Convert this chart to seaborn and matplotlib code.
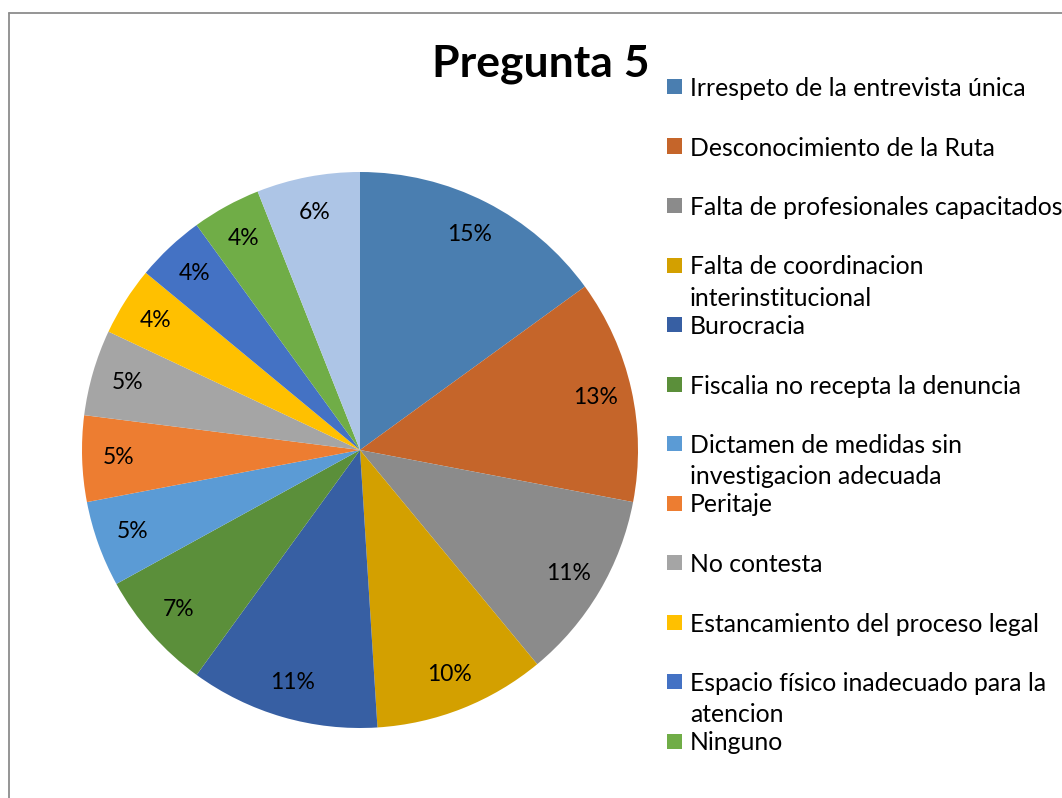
import numpy as np
import pandas as pd
import seaborn as sns
import matplotlib.pyplot as plt
from matplotlib.patches import Rectangle
from matplotlib.lines import Line2D

# data (percent of answers)
categorias = ['Irrespeto de la entrevista única',
              'Desconocimiento de la Ruta',
              'Falta de profesionales capacitados',
              'Falta de coordinacion\ninterinstitucional',
              'Burocracia',
              'Fiscalia no recepta la denuncia',
              'Dictamen de medidas sin\ninvestigacion adecuada',
              'Peritaje',
              'No contesta',
              'Estancamiento del proceso legal',
              'Espacio físico inadecuado para la\natencion',
              'Ninguno',
              'Otros']
porcentajes = [15, 13, 11, 10, 11, 7, 5, 5, 5, 4, 4, 4, 6]
colores = ['#4a7eb0', '#c5652a', '#8b8b8b', '#d3a000', '#375fa3', '#5b8f3a',
           '#5b9bd5', '#ed7d31', '#a5a5a5', '#ffc000', '#4472c4', '#70ad47',
           '#adc5e6']
n_leyenda = 12  # the last slice has no legend entry in the original

sns.set_theme(style='white')
plt.rcParams['font.family'] = ['Lato', 'DejaVu Sans']

W, H = 1062, 798
fig = plt.figure(figsize=(W / 100, H / 100), dpi=100)
fig.patch.set_facecolor('white')

# pie area: centre (360, 450) px, radius 278 px
cx, cy, r = 360, 450, 278
ax = fig.add_axes([(cx - r) / W, 1 - (cy + r) / H, 2 * r / W, 2 * r / H])
pal = sns.color_palette(colores)
ax.pie(porcentajes, colors=pal, startangle=90, counterclock=False,
       autopct='%1.0f%%', pctdistance=0.87,
       wedgeprops=dict(linewidth=0),
       textprops=dict(fontsize=16.5, color='black'))
ax.set_xlim(-1, 1)
ax.set_ylim(-1, 1)
ax.set_aspect('equal')
ax.axis('off')

# chart frame (only top and left edges are visible)
fig.add_artist(Line2D([9 / W, 1], [1 - 13 / H, 1 - 13 / H], color='#8c8c8c', lw=1.3))
fig.add_artist(Line2D([9 / W, 9 / W], [0, 1 - 13 / H], color='#8c8c8c', lw=1.3))

fig.text(541 / W, 1 - 64 / H, 'Pregunta 5', ha='center', va='center',
         fontsize=32, fontweight='bold', color='black')

# legend
y0, paso, interl = 86.5, 59.5, 31
for i in range(n_leyenda):
    y = y0 + i * paso
    fig.add_artist(Rectangle((667 / W, 1 - (y + 7.5) / H), 15 / W, 15 / H,
                             facecolor=colores[i], edgecolor='none',
                             transform=fig.transFigure))
    for k, linea in enumerate(categorias[i].split('\n')):
        fig.text(690 / W, 1 - (y + k * interl) / H, linea, ha='left',
                 va='center_baseline', fontsize=17.8, color='black')

fig.savefig('out.png', dpi=100)
